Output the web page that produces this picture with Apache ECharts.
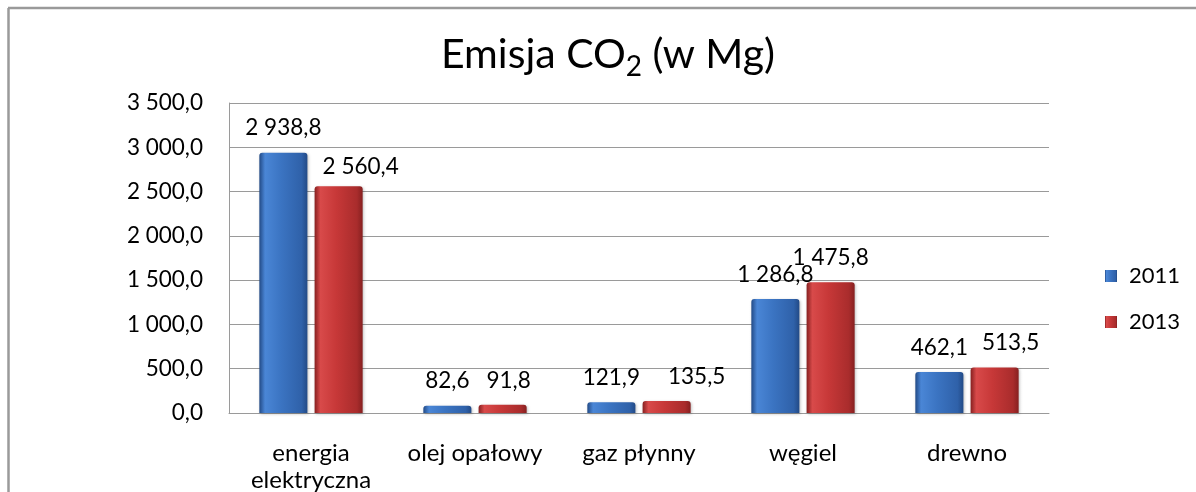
<!DOCTYPE html>
<html>
<head>
<meta charset="utf-8">
<style>
  html, body { margin: 0; padding: 0; background: #fff; }
  #chart { width: 1196px; height: 492px; }
</style>
<script src="https://cdn.jsdelivr.net/npm/echarts@6/dist/echarts.min.js"></script>
</head>
<body>
<div id="chart"></div>
<script>
  const categories = ['energia\nelektryczna', 'olej opałowy', 'gaz płynny', 'węgiel', 'drewno']
  const seriesNames = ['2011', '2013']
  const values2011 = [2938.8, 82.6, 121.9, 1286.8, 462.1]
  const values2013 = [2560.4, 91.8, 135.5, 1475.8, 513.5]
  const yMin = 0
  const yMax = 3500
  const yStep = 500

  // excel-style number: "2 938,8"
  function fmt (v) {
    const parts = Number(v).toFixed(1).split('.')
    return parts[0].replace(/\B(?=(\d{3})+(?!\d))/g, ' ') + ',' + parts[1]
  }

  const font = 'Lato, "Open Sans", sans-serif'

  function barFill (edge, light, mid, dark) {
    return new echarts.graphic.LinearGradient(0, 0, 1, 0, [
      { offset: 0, color: edge },
      { offset: 0.12, color: light },
      { offset: 0.45, color: mid },
      { offset: 0.88, color: dark },
      { offset: 1, color: edge }
    ])
  }
  const blueFill = barFill('#224a86', '#4a86d6', '#3b74c2', '#2f61a9')
  const redFill = barFill('#862020', '#d84a4a', '#c73838', '#a92c2c')

  // the 2013 labels were nudged by hand in the original
  const shift2013 = [[22, 5], [6, 0], [30, 0], [0, 0], [16, 0]]
  const data2013 = values2013.map((v, i) => ({
    value: v,
    label: { offset: shift2013[i] }
  }))

  const chart = echarts.init(document.getElementById('chart'))
  chart.setOption({
    backgroundColor: '#fff',
    animation: false,
    textStyle: { fontFamily: font },
    title: {
      text: '{m|Emisja CO}{s|2}{m| (w Mg)}',
      left: 608,
      textAlign: 'center',
      top: 29,
      padding: 0,
      textStyle: {
        fontWeight: 'normal',
        rich: {
          m: { fontFamily: font, fontSize: 41, fontWeight: 'normal', color: '#000', lineHeight: 52 },
          s: { fontFamily: font, fontSize: 28, fontWeight: 'normal', color: '#000', lineHeight: 18, verticalAlign: 'bottom' }
        }
      }
    },
    graphic: [
      { type: 'line', shape: { x1: 8, y1: 8, x2: 1196, y2: 8 }, style: { stroke: '#9a9a9a', lineWidth: 2.5 } },
      { type: 'line', shape: { x1: 8.5, y1: 8, x2: 8.5, y2: 492 }, style: { stroke: '#9a9a9a', lineWidth: 2.5 } }
    ],
    legend: {
      orient: 'vertical',
      left: 1100,
      top: 260,
      itemWidth: 12,
      itemHeight: 12,
      itemGap: 24,
      icon: 'rect',
      data: seriesNames,
      textStyle: { fontFamily: font, fontSize: 22, color: '#000', padding: [0, 0, 0, 7] }
    },
    grid: {
      left: 229,
      right: 147,
      top: 103,
      bottom: 79,
      containLabel: false,
      outerBoundsMode: 'none'
    },
    xAxis: {
      type: 'category',
      data: categories,
      axisLine: { lineStyle: { color: '#9a9a9a', width: 1 } },
      axisTick: { show: false },
      axisLabel: {
        margin: 27,
        fontFamily: font,
        fontSize: 24,
        lineHeight: 27,
        color: '#000',
        interval: 0
      }
    },
    yAxis: {
      type: 'value',
      min: yMin,
      max: yMax,
      interval: yStep,
      axisLine: { show: true, lineStyle: { color: '#9a9a9a', width: 1 } },
      axisTick: { show: false },
      splitLine: { lineStyle: { color: '#9a9a9a', width: 1 } },
      axisLabel: {
        margin: 26,
        fontFamily: font,
        fontSize: 22.5,
        color: '#000',
        formatter: fmt
      }
    },
    series: [
      {
        name: seriesNames[0],
        type: 'bar',
        barCategoryGap: '37%',
        barGap: '15%',
        data: values2011,
        itemStyle: {
          color: blueFill,
          borderRadius: [3, 3, 0, 0],
          shadowColor: 'rgba(0,0,0,0.25)',
          shadowBlur: 3,
          shadowOffsetX: 1,
          shadowOffsetY: 1
        },
        label: {
          show: true,
          position: 'top',
          distance: 13,
          fontFamily: font,
          fontSize: 22.5,
          color: '#000',
          formatter: p => fmt(p.value)
        }
      },
      {
        name: seriesNames[1],
        type: 'bar',
        barCategoryGap: '37%',
        barGap: '15%',
        data: data2013,
        itemStyle: {
          color: redFill,
          borderRadius: [3, 3, 0, 0],
          shadowColor: 'rgba(0,0,0,0.25)',
          shadowBlur: 3,
          shadowOffsetX: 1,
          shadowOffsetY: 1
        },
        label: {
          show: true,
          position: 'top',
          distance: 13,
          fontFamily: font,
          fontSize: 22.5,
          color: '#000',
          formatter: p => fmt(p.value)
        }
      }
    ]
  })
</script>
</body>
</html>
